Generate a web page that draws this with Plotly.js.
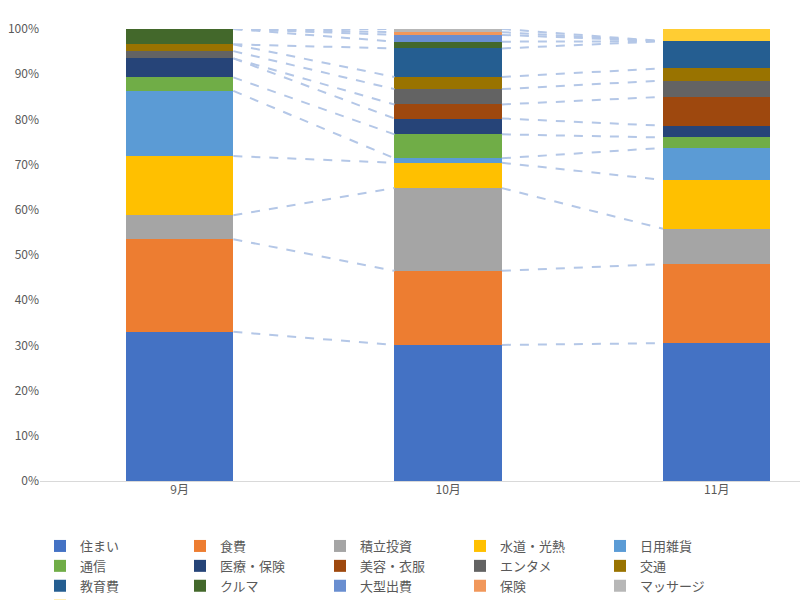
<!DOCTYPE html>
<html><head><meta charset="utf-8">
<script src="https://cdn.plot.ly/plotly-3.0.1.min.js"></script>
</head><body style="margin:0">
<div id="c" style="width:800px;height:600px"></div>
<script>
const months = ['9月','10月','11月'];
const seriesNames = ['住まい','食費','積立投資','水道・光熱','日用雑貨','通信','医療・保険','美容・衣服','エンタメ','交通','教育費','クルマ','大型出費','保険','マッサージ','その他'];
const colors = ['#4472C4','#ED7D31','#A5A5A5','#FFC000','#5B9BD5','#70AD47','#264478','#9E480E','#636363','#997300','#255E91','#43682B','#698ED0','#F1975A','#B7B7B7','#FFCD33'];
const v_jusumai = [33.0,30.1,30.5];
const v_shokuhi = [20.5,16.4,17.5];
const v_tsumitate = [5.3,18.3,7.8];
const v_suido = [13.1,5.6,10.8];
const v_nichiyo = [14.4,1.0,7.1];
const v_tsushin = [3.0,5.3,2.3];
const v_iryo = [4.2,3.5,2.6];
const v_biyo = [0,3.1,6.4];
const v_entame = [1.6,3.4,3.6];
const v_kotsu = [1.5,2.7,2.7];
const v_kyoiku = [0,6.3,6.0];
const v_kuruma = [3.4,1.5,0];
const v_ogata = [0,1.5,0];
const v_hoken = [0,0.6,0];
const v_massage = [0,0.7,0];
const v_sonota = [0,0,2.7];
const values = [v_jusumai,v_shokuhi,v_tsumitate,v_suido,v_nichiyo,v_tsushin,v_iryo,v_biyo,v_entame,v_kotsu,v_kyoiku,v_kuruma,v_ogata,v_hoken,v_massage,v_sonota];
const xs = months.map((m,i)=>i);
const bw = 0.4;
const traces = [];
const cum = [0,0,0];
values.forEach((vals,k)=>{
  traces.push({type:'bar',x:xs,y:vals.map(v=>v/100),name:seriesNames[k],marker:{color:colors[k]},width:bw,hoverinfo:'name+y'});
  vals.forEach((v,i)=>cum[i]+=v/100);
  const lx=[],ly=[];
  for(let i=0;i<xs.length-1;i++){
    if(vals[i]===0 && vals[i+1]===0) continue;
    lx.push(xs[i]+bw/2,xs[i+1]-bw/2,null);ly.push(cum[i],cum[i+1],null);
  }
  if(k<values.length-1 && lx.length) traces.push({type:'scatter',mode:'lines',x:lx,y:ly,showlegend:false,hoverinfo:'skip',line:{color:'#B4C7E7',width:2,dash:'dash'}});
});
Plotly.newPlot('c',traces,{
  barmode:'stack',
  width:800,height:600,
  margin:{l:40,r:0,t:29,b:119},
  paper_bgcolor:'#fff',plot_bgcolor:'#fff',
  font:{family:'Noto Sans CJK JP, sans-serif',color:'#595959',size:12},
  xaxis:{range:[-0.52,2.31],tickvals:xs,ticktext:months,showgrid:false,zeroline:false,showline:false,ticks:'',ticklen:8},
  yaxis:{range:[0,1],tickformat:'.0%',dtick:0.1,showgrid:false,zeroline:true,zerolinecolor:'#D9D9D9',ticks:''},
  legend:{orientation:'h',x:0.05,xref:'container',y:0.115,yref:'container',xanchor:'left',yanchor:'top',entrywidth:95,itemwidth:20,traceorder:'normal',font:{size:13,color:'#595959'},tracegroupgap:0},
  showlegend:true
},{displayModeBar:false});
</script></body></html>
